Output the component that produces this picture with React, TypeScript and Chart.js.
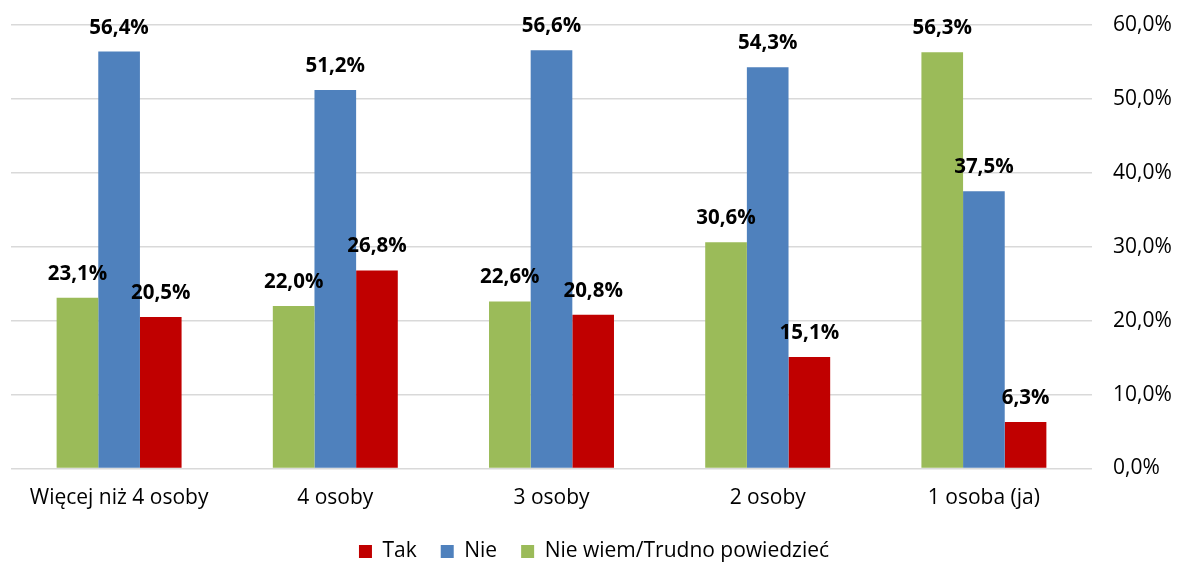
import React, { useEffect, useRef } from "react";
import { Chart, registerables } from "chart.js";

Chart.register(...registerables);

const categories = ["Więcej niż 4 osoby", "4 osoby", "3 osoby", "2 osoby", "1 osoba (ja)"];
const seriesNames = ["Nie wiem/Trudno powiedzieć", "Nie", "Tak"];
const nieWiemValues = [23.1, 22.0, 22.6, 30.6, 56.3];
const nieValues = [56.4, 51.2, 56.6, 54.3, 37.5];
const takValues = [20.5, 26.8, 20.8, 15.1, 6.3];
const seriesColors = ["#9BBB59", "#4F81BD", "#C00000"];
const yTickMax = 60;
const yTickStep = 10;

const FONT = "'Open Sans', sans-serif";

const fmt = (v: number) => v.toFixed(1).replace(".", ",") + "%";

const dataLabelPlugin = {
  id: "dataLabels",
  afterDatasetsDraw(chart: any) {
    const ctx = chart.ctx;
    ctx.save();
    ctx.font = `bold 20.5px ${FONT}`;
    ctx.fillStyle = "#000";
    ctx.textAlign = "center";
    ctx.textBaseline = "alphabetic";
    chart.data.datasets.forEach((ds: any, i: number) => {
      const meta = chart.getDatasetMeta(i);
      meta.data.forEach((bar: any, j: number) => {
        ctx.fillText(fmt(ds.data[j]), bar.x, bar.y - 18);
      });
    });
    ctx.restore();
  },
};

export default function App() {
  const ref = useRef<HTMLCanvasElement | null>(null);
  useEffect(() => {
    if (!ref.current) return;
    const values = [nieWiemValues, nieValues, takValues];
    const chart = new Chart(ref.current, {
      type: "bar",
      data: {
        labels: categories,
        datasets: seriesNames.map((name, i) => ({
          label: name,
          data: values[i],
          backgroundColor: seriesColors[i],
          borderWidth: 0,
          categoryPercentage: 0.578,
          barPercentage: 1.0,
        })),
      },
      options: {
        animation: false,
        responsive: false,
        maintainAspectRatio: false,
        layout: { padding: { left: 11, right: 0, top: 25, bottom: -9 } },
        plugins: {
          tooltip: { enabled: false },
          legend: {
            position: "bottom",
            reverse: true,
            labels: {
              boxWidth: 13,
              boxHeight: 13,
              padding: 24,
              color: "#000",
              font: { family: FONT, size: 21 },
            },
          },
        },
        scales: {
          x: {
            grid: { display: false, drawTicks: false },
            border: { display: false },
            ticks: { color: "#000", font: { family: FONT, size: 21 }, padding: 17, maxRotation: 0 },
            afterFit: (s: any) => {
              s.height = 48.5;
              s.paddingLeft = 0;
              s.paddingRight = 0;
            },
          },
          y: {
            position: "right",
            min: 0,
            max: yTickMax,
            grid: { color: "#D9D9D9", lineWidth: 1.5, drawTicks: false },
            border: { display: false },
            ticks: {
              stepSize: yTickStep,
              padding: 21,
              color: "#000",
              font: { family: FONT, size: 21 },
              callback: (v: any) => fmt(Number(v)),
            },
            afterFit: (s: any) => {
              s.width = 85;
              s.paddingTop = 0;
              s.paddingBottom = 0;
            },
          },
        },
      },
      plugins: [dataLabelPlugin],
    });
    return () => chart.destroy();
  }, []);
  return (
    <div style={{ position: "absolute", left: 0, top: 0, width: 1177, height: 563, background: "#fff" }}>
      <canvas ref={ref} width={1177} height={563} />
    </div>
  );
}
